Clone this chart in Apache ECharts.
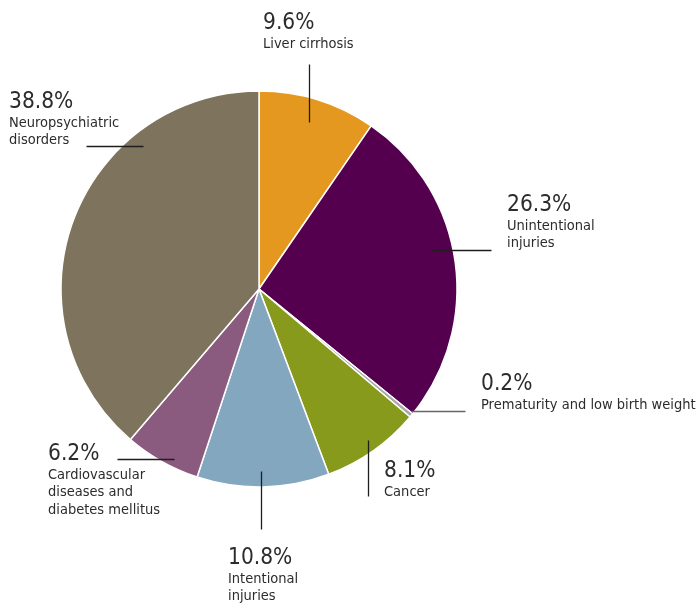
<!DOCTYPE html>
<html>
<head>
<meta charset="utf-8">
<script src="https://cdn.jsdelivr.net/npm/echarts@6/dist/echarts.min.js"></script>
<style>
  html, body { margin: 0; padding: 0; background: #fff; }
  #chart { width: 697px; height: 604px; }
</style>
</head>
<body>
<div id="chart"></div>
<script>
// Share of burden by cause (%), clockwise from 12 o'clock
const causes = [
  'Liver cirrhosis',
  'Unintentional\ninjuries',
  'Prematurity and low birth weight',
  'Cancer',
  'Intentional\ninjuries',
  'Cardiovascular\ndiseases and\ndiabetes mellitus',
  'Neuropsychiatric\ndisorders'
];
const shares = [9.6, 26.3, 0.2, 8.1, 10.8, 6.2, 38.8];
const colors = ['#E5981F', '#55004F', '#A8A8A8', '#889A1C', '#84A7C0', '#8A5A7F', '#7E735C'];

// Pie geometry
const CX = 259, CY = 289, R = 198;

// Label placement: text box top-left, plus leader line given as
// polar start (degrees clockwise from 12 o'clock, fraction of radius),
// a direction and a length.
const labelPlacement = [
  { x: 263, y: 11,  a: 16.8,  rf: 0.876, dir: 'up',    len: 58 },
  { x: 507, y: 193, a: 77.4,  rf: 0.90,  dir: 'right', len: 59 },
  { x: 481, y: 372, a: 128.8, rf: 0.99,  dir: 'right', len: 54 },
  { x: 384, y: 459, a: 144.1, rf: 0.947, dir: 'down',  len: 56 },
  { x: 228, y: 546, a: 179.1, rf: 0.924, dir: 'down',  len: 58 },
  { x: 48,  y: 442, a: 206.4, rf: 0.964, dir: 'left',  len: 57 },
  { x: 9,   y: 90,  a: 320.8, rf: 0.926, dir: 'left',  len: 57 }
];

const FONT = "'DejaVu Sans Condensed', 'Liberation Sans Narrow', sans-serif";
const TEXT = '#2c2c2c';

// snap to pixel centres so the 1px-ish leaders stay crisp
function snap(v) { return Math.round(v - 0.5) + 0.5; }

function leaderPoints(p) {
  const rad = p.a * Math.PI / 180;
  const sx = snap(CX + p.rf * R * Math.sin(rad));
  const sy = snap(CY - p.rf * R * Math.cos(rad));
  let ex = sx, ey = sy;
  if (p.dir === 'up') ey -= p.len;
  else if (p.dir === 'down') ey += p.len;
  else if (p.dir === 'left') ex -= p.len;
  else ex += p.len;
  return [[sx, sy], [ex, ey]];
}

const pieBase = {
  type: 'pie',
  center: [CX, CY],
  radius: R,
  startAngle: 90,
  clockwise: true,
  minAngle: 1.2,
  avoidLabelOverlap: false,
  silent: true
};

const chart = echarts.init(document.getElementById('chart'), null, { renderer: 'canvas' });

chart.setOption({
  animation: false,
  backgroundColor: '#ffffff',
  series: [
    // coloured slices
    Object.assign({}, pieBase, {
      z: 2,
      itemStyle: { borderColor: '#ffffff', borderWidth: 1.5 },
      label: { show: false },
      labelLine: { show: false },
      data: causes.map(function (name, i) {
        return { name: name, value: shares[i], itemStyle: { color: colors[i] } };
      })
    }),
    // labels and leader lines, drawn above the slices
    Object.assign({}, pieBase, {
      z: 4,
      itemStyle: { color: 'rgba(0,0,0,0)', borderWidth: 0 },
      label: {
        show: true,
        position: 'outside',
        formatter: function (p) { return '{p|' + p.value + '%}\n{n|' + p.name + '}'; },
        rich: {
          p: { fontFamily: FONT, fontSize: 22.5, lineHeight: 24, color: TEXT },
          n: { fontFamily: FONT, fontSize: 14.5, lineHeight: 17.5, color: TEXT }
        }
      },
      labelLine: {
        show: true,
        smooth: false,
        length: 10,
        length2: 10,
        lineStyle: { color: '#1e1e1e', width: 1.3 }
      },
      labelLayout: function (params) {
        const p = labelPlacement[params.dataIndex];
        return {
          x: p.x,
          y: p.y,
          align: 'left',
          verticalAlign: 'top',
          labelLinePoints: leaderPoints(p)
        };
      },
      data: causes.map(function (name, i) {
        const item = { name: name, value: shares[i] };
        if (i === 2) item.labelLine = { lineStyle: { color: '#666666' } };
        return item;
      })
    })
  ]
});
</script>
</body>
</html>
